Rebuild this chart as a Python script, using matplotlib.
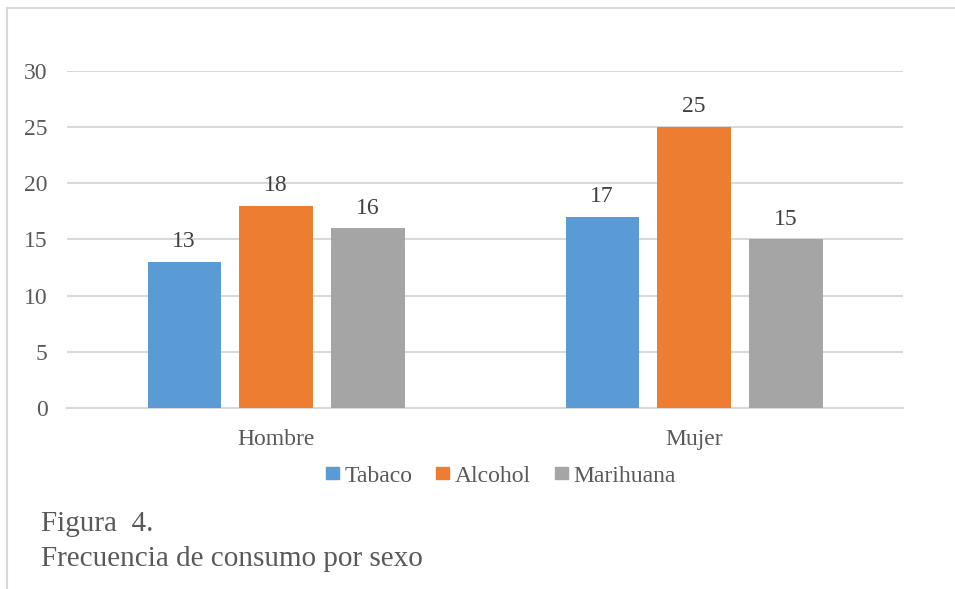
import numpy as np
import matplotlib.pyplot as plt
from matplotlib.patches import Patch, Rectangle

plt.rcParams["font.family"] = ["Liberation Serif", "DejaVu Serif"]

sexos = ["Hombre", "Mujer"]
series = ["Tabaco", "Alcohol", "Marihuana"]
tabaco = [13, 17]
alcohol = [18, 25]
marihuana = [16, 15]
colores = ["#5B9BD5", "#ED7D31", "#A5A5A5"]

text_color = "#595959"
grid_color = "#D9D9D9"

fig = plt.figure(figsize=(9.55, 5.89), dpi=100)
ax = fig.add_axes([0.0702, 0.3073, 0.8754, 0.5722])

x = np.arange(len(sexos))
width = 0.175
offsets = [-0.22, 0.0, 0.22]
for valores, off, color in zip([tabaco, alcohol, marihuana], offsets, colores):
    bars = ax.bar(x + off, valores, width, color=color, zorder=3)
    for b, v in zip(bars, valores):
        ax.annotate(str(v), (b.get_x() + b.get_width() / 2, v),
                    xytext=(0, 7), textcoords="offset points",
                    ha="center", va="bottom", fontsize=17, color="#404040")

ax.set_xlim(-0.5, 1.5)
ax.set_ylim(0, 30)
ax.set_yticks(range(0, 31, 5))
ax.set_xticks(x)
ax.set_xticklabels(sexos)
ax.tick_params(axis="both", length=0, labelsize=17, labelcolor=text_color)
ax.tick_params(axis="y", pad=14)
ax.tick_params(axis="x", pad=15)
ax.yaxis.grid(True, color=grid_color, linewidth=1.5, zorder=0)
for side in ["top", "right", "left"]:
    ax.spines[side].set_visible(False)
ax.spines["bottom"].set_color(grid_color)
ax.spines["bottom"].set_linewidth(1.5)

handles = [Patch(color=c, label=s) for c, s in zip(colores, series)]
fig.legend(handles=handles, loc="center", bbox_to_anchor=(501 / 955, 1 - 476 / 589),
           ncol=3, frameon=False, fontsize=17, labelcolor=text_color,
           handlelength=0.55, handleheight=0.4, handletextpad=0.25, columnspacing=1.0)

fig.text(41 / 955, 1 - 524 / 589, "Figura  4.", fontsize=21, color=text_color,
         ha="left", va="center")
fig.text(41 / 955, 1 - 559 / 589, "Frecuencia de consumo por sexo", fontsize=21,
         color=text_color, ha="left", va="center")

# marco exterior del gráfico
fig.patches.append(Rectangle((7 / 955, -0.1), 1.2, 1 - 8 / 589 + 0.1,
                             transform=fig.transFigure, fill=False,
                             edgecolor=grid_color, linewidth=1.5))

fig.savefig("out.png", dpi=100)
